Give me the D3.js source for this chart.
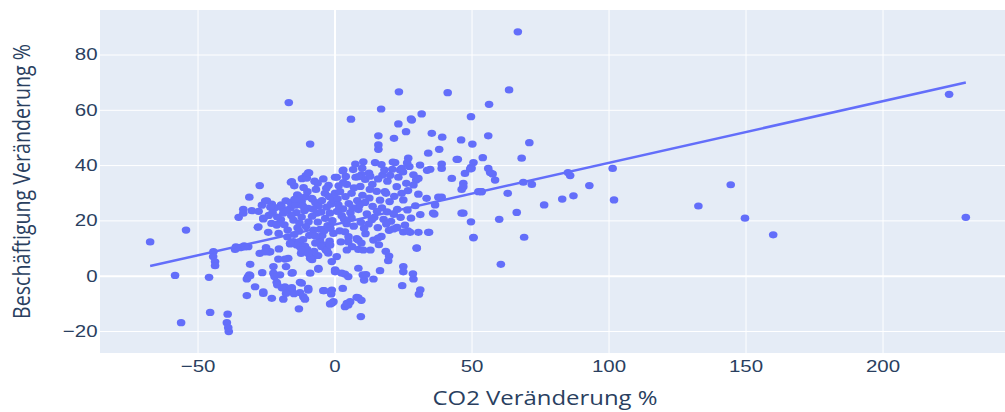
<!DOCTYPE html>
<html>
<head>
<meta charset="utf-8">
<script src="https://cdn.jsdelivr.net/npm/d3@7"></script>
<style>
  body { margin: 0; background: #fff; }
  svg { display: block; font-family: "Open Sans", "DejaVu Sans", sans-serif; }
  .tick text { fill: #2a3f5f; font-size: 16.8px; }
  .axis-label { fill: #2a3f5f; font-size: 19.6px; }
</style>
</head>
<body>
<svg width="1005" height="412"></svg>
<script>
const xTicks = [-50, 0, 50, 100, 150, 200];
const yTicks = [-20, 0, 20, 40, 60, 80];
const xAxisLabel = 'CO2 Veränderung %';
const yAxisLabel = 'Beschäftigung Veränderung %';

// OLS trendline
const trendSlope = 0.223;
const trendIntercept = 18.5;

// [CO2 change %, employment change %]
const outlierPoints = [
  [-67.3,12.2],[-54.2,16.5],[-58.2,0.1],[-56,-17],[-45.8,-0.6],[-45.4,-13.3],[-44.2,8.7],
  [-44.3,6.9],[-43.6,5],[-43.6,3.6],[-39,-13.9],[-39.3,-17],[-38.8,-18.8],[-38.6,-20.2],
  [132.8,25.2],[144.6,32.9],[149.8,20.8],[160.1,14.8],[224.3,65.6],[230.4,21.1]
];

const leftCluster = [
  [-16.7,62.6],[-8.9,47.6],[-9.3,37.2],[-10.5,36.2],[-11.9,35.1],[-15.9,33.8],[-14.7,32.5],
  [-4.1,35],[-27.3,32.6],[-31.1,28.4],[-33.3,24],[-30.2,23.5],[-35,21.1],[-25.3,27],
  [-22.9,25.9],[-21.8,24.6],[-26,20.5],[-28,17.5],[-24.2,15.7],[-21.1,18.6],[-18.7,22.6],
  [-20.4,15.3],[-17.1,16.5],[-13.6,29.2],[-8.1,27.7],[-6.5,22.6],[-5.3,16.8],[-7.7,16.5],
  [-8.9,6.9],[-8.2,5.8],[-12.6,10.5],[-15,12.3],[-16.2,11.5],[-20.3,9.7],[-23.8,8.5],
  [-27.3,8.1],[-36.3,9.5],[-33.9,10.3],[-31.5,10.5],[-30.8,4.1],[-20.5,6],[-16.9,6.3],
  [-22.3,3.3],[-17.7,3.3],[-22.3,0.9],[-19.9,0.3],[-15.6,0.9],[-26.4,1.1],[-30.8,0],
  [-32,-1.2],[-29,-4],[-26,-6.4],[-32,-7.2],[-22.9,-8.2],[-18.7,-8.5],[-21.1,-2.4],
  [-18.1,-4],[-15.6,-5.2],[-12,-2.7],[-12.6,-6.1],[-11.4,-7.6],[-9.6,-5.2],[-13,-12],
  [-8.9,0.9],[-5.9,2.7],[-4.1,-5.4],[-1,-5.2],[-1.2,-6.6],[-0.4,-9.4],[-1.6,-10.2],
  [-3.5,9.9],[-2.3,8.2],[-1,5.1],[0.2,2.1],[-0.4,15.3],[-5.3,12.9],[-3.5,29.8],[-2,28.6],
  [0.2,29.9],[0.2,35.6],[-16.2,24.4],[-12,26.8],[-9.6,24.4],[-8.2,21.5],[-15,20.1],
  [-12,21.2],[-9.5,19.5],[-13.5,17.3],[-14.7,14.9],[-19.5,25.6],[-17.8,27.1],[-16,26.5],
  [-14.2,25.5],[-13.9,22.8],[-11,23.5],[-10.6,28.5],[-7,26.5],[-5.8,25.2],[-4.6,27.2],
  [-2.9,24.8],[-1.7,22.6],[-3.4,20.7],[-6.1,19.4],[-9.2,14.6],[-11.5,13.1],[-13,16.1],
  [-18.3,18.4],[-19.6,20.3],[-17.2,14],[-15.8,21.8],[-10.4,17.8],[-4.5,14.5],[-2.5,18.1],
  [-0.8,19.9],[-1.3,25.9],[-6.8,31.2],[-9.9,30.4],[-2.2,32.7],[-12.7,12.3],[-10.8,10.7],
  [-7,11.8],[-4,11.2],[-1.8,12.5],[-24,21.8],[-23,18.9],[-27.7,23.3],[-26.5,25.5],
  [-25,10.2],[-12.2,8.1],[-10,9.5],[-6,7.3],[-31.1,0.3],[-23.5,8.7],[-32.7,10.4],
  [-34.5,10.1],[-15.3,1.1],[-18,-4.6],[-17,-5.6],[-14.8,-6.5],[-12.6,-2.4],[-10.8,-8.5],
  [-9.6,-4.6],[-8.9,6.3],[-7.5,8.8],[-4.8,10.6],[-3.1,9.2],[-31.6,-0.4],[-26,-5.8],
  [-21.9,-0.3],[-20.9,-3.3],[-19.2,-4.4],[-17.7,-6.4],[-15.6,-4.3],[-18.1,6],[-25.4,8.6],
  [-33.3,22.6],[-27.8,17.7],[-26,20.8],[-21.1,18.3],[-36,10.4],[-33,10.8],[-13.8,11.1],
  [-12,9.3],[-9.6,8.1],[-16.2,11.7],[-2.8,9.3],[0.8,6.9],[-1.6,11.1],[-10.1,35.3],
  [-15.6,34],[-9.6,37.2],[-24.7,27.1],[-23.4,24.8],[-13.2,28.8],[-19.3,24.7],[-8.3,28],
  [-6.2,33.4],[-3,31.6],[-0.6,27.5],[-4.9,23],[-7.8,24.1],[-11.6,25.3],[-14.6,27.6],
  [-17.4,23.6],[-20.9,21.2],[-22.6,22.8],[-11.3,31.9],[-7.3,34.2],[-1.5,17.1],[-3.8,16.3],
  [-6.9,14.3],[-12.8,19.1]
];

const rightCluster = [
  [3,37.9],[0.8,35.6],[2,30.4],[4.5,33],[6.2,29.8],[7.7,35.6],[9.4,32.3],[10.5,41.2],
  [14.8,40.9],[12.6,37.1],[11.2,34.8],[13.8,33],[15.4,30.5],[17.5,36.4],[19.3,34.2],
  [21.1,38.5],[22.1,40.9],[23.9,38.2],[22.7,32.2],[18.8,29.8],[16.6,27.3],[13.9,25.1],
  [11.1,26.5],[8.3,27.2],[5.2,26.1],[3.1,24.2],[1.1,27.8],[2.6,21.7],[5.8,22.8],[8.7,23.9],
  [11.8,22.4],[14.5,21.1],[17.3,24.5],[20.1,26.8],[22.9,24],[25.1,27.4],[24.1,21.1],
  [20.6,19.7],[17.9,20.4],[15.8,17.4],[12.4,18.7],[9.6,19.3],[7,17.9],[4.4,18.8],[1.9,16.2],
  [5.1,14.1],[8.1,13.4],[11.3,15.2],[14.2,12.9],[17.1,14.2],[19.9,16.4],[22.8,17.5],
  [25.7,18.3],[27.9,20.8],[26.6,23.8],[29.5,25.3],[31.3,22.1],[2.3,12.2],[6.4,10.5],
  [9.8,11.8],[13.1,9.3],[16.2,11.2],[18.7,8.8],[3.2,33.7],[6.8,38.4],[9.9,36.6],[0.9,23.3],
  [16,50.6],[16,45.7],[16,47.3],[21.7,49.7],[23.3,54.9],[28.2,56.3],[26.1,52.1],[35.5,51.5],
  [39.3,50.1],[46.2,49.1],[50.3,47.6],[38.2,45.7],[34.2,44.3],[26.9,42.5],[31.2,40],
  [39.1,38.8],[39.1,40.4],[44.6,42.1],[50.7,40.9],[50,38.8],[47.6,37],[42.8,35.2],[47,33.4],
  [46.4,31.2],[28.8,36.5],[29.8,34.6],[28.8,32.8],[30.6,35.2],[30.6,29.5],[33.6,28],
  [39.1,28.4],[36.7,25.6],[46.4,22.6],[49.8,19.5],[52.5,30.4],[36,22.6],[27.3,39.5],
  [25,37.5],[33.8,38.1],[23.5,66.5],[41.3,66.2],[56.4,62],[17,60.3],[6,56.6],[31.8,58.5],
  [27.9,56.7],[49.8,57.5],[21.3,41.1],[26.5,40.8],[24.5,38.8],[34.9,38.5],[45,42.1],
  [49.8,39.2],[57.7,36.8],[53.7,30.4],[37.9,28.4],[24.5,29.8],[18.4,30.4],[13,36],[8.7,35.8],
  [3.2,38.2],[36.4,22.3],[34.5,15.7],[27.6,15.7],[30,10.1],[25.1,1.4],[25.1,3.3],[28.8,-1.2],
  [28.6,0.7],[24.7,-3.6],[30.8,-6.7],[31.3,-5.1],[16.6,1.8],[14.2,-1.2],[9.6,-14.8],
  [19.9,7.1],[19.6,5.4],[10.3,0.3],[10.8,-1.6],[3.8,0.6],[5,-0.3],[0.4,1.7],[-5.9,2.3],
  [3,-4.6],[-3.8,-5.4],[-1,-10],[3.8,-11.2],[5.7,-9.4],[8.7,-8],[9.8,-8.9],[8.7,9.5],
  [8.1,-7.8],[5,-10.6],[30,9.9],[34.2,15.7],[50.7,13.7],[30.6,15.7],[25.1,15.8],[22.8,17.3],
  [8.7,2.7],[11.5,0.4],[3.8,15.9],[5,12.3],[8.7,12.9],[10.5,9.3],[4.5,9.3],[15.9,13.6],
  [21.5,16.9],[26.8,16.2],[0.2,1.4],[2.6,0.9],[4.5,-10],
  [1.5,32.5],[4.1,35.9],[7.1,31.8],[10.2,29.1],[12.9,31.2],[15.9,35],[18.2,38.2],[20.3,36.3],
  [23.3,35.6],[26.2,33.4],[26.8,30.8],[21.8,28.7],[19.2,23.1],[15.5,23.3],[12.7,28.1],
  [9.1,25.5],[6.6,24.5],[4,28.6],[1.4,25.6],[3.5,20.4],[6.2,20.9],[10.8,17.2],[13.6,20.2],
  [18.9,18.7],[21.6,22.2],[10.1,38.9],[17.1,40.2],[7.6,40.4]
];

const farRightPoints = [
  [66.9,88.2],[63.7,67.2],[56.1,50.6],[71.1,48.1],[54.1,42.7],[68.3,42.5],[49.5,38.6],
  [56.8,37.3],[56.1,38.8],[58.6,34.6],[68.9,33.8],[72,33],[86,36.2],[85.2,37.3],[101.5,38.8],
  [93,32.6],[87.2,28.9],[83.1,27.7],[76.5,25.6],[102,27.4],[47,32.2],[53.5,30.4],[63.2,29.8],
  [47,22.6],[66.5,22.9],[60.1,20.4],[50.7,13.9],[69.2,13.9],[60.7,4.1]
];

const data = [...outlierPoints, ...leftCluster, ...rightCluster, ...farRightPoints]
  .map(([x, y]) => ({ co2: x, jobs: y }));

const svg = d3.select('svg');
const width = +svg.attr('width');
const height = +svg.attr('height');
const margin = { top: 10, right: 0, bottom: 59, left: 100 };
const innerWidth = width - margin.left - margin.right;
const innerHeight = height - margin.top - margin.bottom;

// the reference picture is stretched a little wider than tall
const stretchX = 1.22;

const xScale = d3.scaleLinear().domain([-85.6, 244.7]).range([0, innerWidth]);
const yScale = d3.scaleLinear().domain([-27.96, 96.1]).range([innerHeight, 0]);

const g = svg.append('g').attr('transform', `translate(${margin.left},${margin.top})`);

g.append('rect')
  .attr('width', innerWidth)
  .attr('height', innerHeight)
  .attr('fill', '#e5ecf6');

const fmt = d => d < 0 ? '\u2212' + Math.abs(d) : String(d);

const xAxisG = g.append('g')
  .attr('transform', `translate(0,${innerHeight})`)
  .call(d3.axisBottom(xScale).tickValues(xTicks).tickSize(-innerHeight).tickPadding(7).tickFormat(fmt));
xAxisG.select('.domain').remove();
xAxisG.selectAll('.tick line')
  .attr('stroke', '#fff')
  .attr('stroke-width', d => d === 0 ? 2 : 1);
xAxisG.selectAll('.tick text')
  .attr('transform', `scale(${stretchX},1)`);

const yAxisG = g.append('g')
  .call(d3.axisLeft(yScale).tickValues(yTicks).tickSize(-innerWidth).tickPadding(2).tickFormat(fmt));
yAxisG.select('.domain').remove();
yAxisG.selectAll('.tick line')
  .attr('stroke', '#fff')
  .attr('stroke-width', d => d === 0 ? 2 : 1);
yAxisG.selectAll('.tick text')
  .attr('transform', `scale(${stretchX},1)`);

const plot = g.append('g');

const xExtent = d3.extent(data, d => d.co2);
const trendLine = d3.line()
  .x(d => xScale(d))
  .y(d => yScale(trendIntercept + trendSlope * d));

plot.selectAll('ellipse')
  .data(data)
  .enter().append('ellipse')
  .attr('cx', d => xScale(d.co2))
  .attr('cy', d => yScale(d.jobs))
  .attr('rx', 4.3)
  .attr('ry', 3.6)
  .attr('fill', '#636efa');

plot.append('path')
  .attr('d', trendLine(xExtent))
  .attr('fill', 'none')
  .attr('stroke', '#636efa')
  .attr('stroke-width', 2.5);

svg.append('text')
  .attr('class', 'axis-label')
  .attr('transform', `translate(545,405) scale(${stretchX},1)`)
  .attr('text-anchor', 'middle')
  .text(xAxisLabel);

svg.append('text')
  .attr('class', 'axis-label')
  .attr('transform', `translate(21,${margin.top + innerHeight / 2}) scale(${stretchX},1) rotate(-90)`)
  .attr('text-anchor', 'middle')
  .attr('dy', '0.36em')
  .text(yAxisLabel);
</script>
</body>
</html>
